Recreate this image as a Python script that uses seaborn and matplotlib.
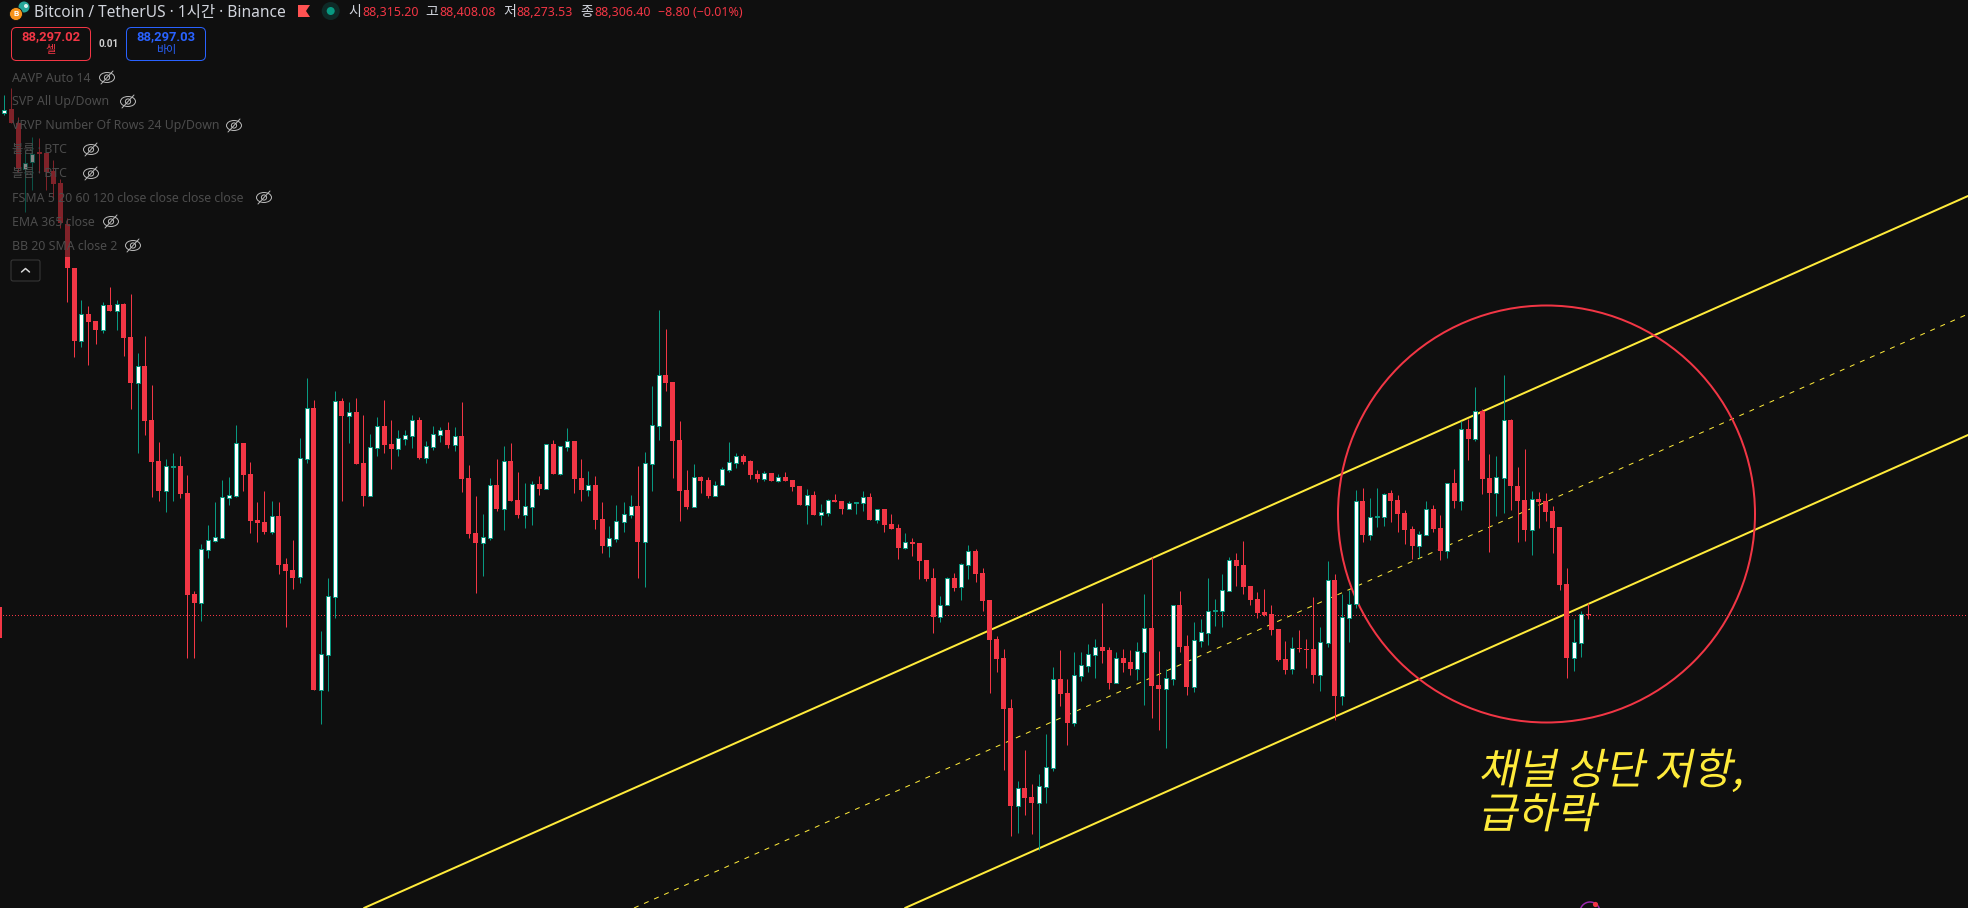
import numpy as np
import pandas as pd
import seaborn as sns
import matplotlib
matplotlib.use("Agg")
import matplotlib.pyplot as plt
from matplotlib.patches import Circle, Ellipse, FancyBboxPatch, Polygon, Rectangle
from matplotlib.patheffects import AbstractPathEffect
from matplotlib.transforms import Affine2D

wick_high = [
    95,88,117,150,137,138,153,160,179,218,
    268,300,306,321,302,287,300,303,294,353,
    336,385,442,459,453,456,475,591,544,525,
    502,480,477,425,443,462,502,491,501,502,
    558,540,438,378,400,631,578,391,398,402,
    398,415,434,417,400,420,430,430,415,417,
    441,426,427,422,427,402,465,496,514,478,
    459,446,443,472,483,481,476,444,440,446,
    428,441,459,471,476,502,526,505,502,495,
    466,452,386,310,329,382,421,470,464,476,
    477,481,467,442,453,454,460,470,471,473,
    474,472,480,486,489,491,504,499,494,501,
    501,502,491,493,509,509,514,524,533,538,
    543,560,568,596,577,573,563,545,549,568,
    600,636,649,699,781,750,784,774,734,667,
    650,679,652,652,644,639,603,647,652,649,
    650,642,594,557,651,669,605,591,635,622,
    619,578,599,574,557,553,541,586,592,589,
    605,629,641,637,630,639,597,627,561,574,
    594,590,490,488,498,488,493,490,495,510,
    526,531,501,505,515,483,469,421,419,387,
    409,454,456,375,419,467,449,491,492,493,
    506,527,568,619,611,603]
body_high = [
    110,109,123,163,154,152,153,171,183,224,
    268,314,314,321,305,305,304,304,337,366,
    366,420,461,466,466,466,493,594,549,540,
    537,497,495,443,443,474,520,522,516,516,
    564,570,458,408,408,654,596,401,401,412,
    412,463,447,426,426,444,438,435,420,420,
    446,434,430,430,436,436,478,533,537,485,
    485,461,461,500,506,484,484,444,444,446,
    441,441,478,485,485,519,538,521,514,506,
    506,463,425,375,375,382,440,490,477,477,
    480,485,469,462,456,456,461,474,473,473,
    477,477,480,486,495,495,512,500,500,501,
    503,502,497,497,509,509,524,528,542,542,
    543,560,578,605,578,578,564,551,551,573,
    600,639,658,708,788,788,797,786,767,679,
    679,693,675,665,654,647,647,650,658,658,
    662,651,628,628,685,678,605,605,646,640,
    632,611,610,590,560,560,565,586,599,612,
    614,629,659,648,648,649,649,642,580,580,
    617,604,501,501,517,516,494,493,500,513,
    529,534,509,509,528,483,483,429,429,411,
    411,478,477,420,420,486,500,499,499,501,
    511,527,584,642,614,614]
body_low = [
    113,123,169,169,162,154,172,184,223,268,
    341,341,322,330,330,311,311,338,383,383,
    421,462,491,491,467,494,595,603,603,550,
    541,538,498,496,475,521,523,532,532,565,
    571,578,577,459,690,690,655,597,416,416,
    464,496,496,448,445,449,449,439,436,458,
    458,447,435,445,445,479,534,543,543,538,
    509,509,501,515,515,507,489,489,474,474,
    447,479,490,490,520,546,546,539,522,515,
    542,542,464,426,383,441,491,507,507,481,
    496,496,485,470,463,462,475,479,479,481,
    481,481,487,505,505,515,515,513,502,509,
    509,503,503,520,520,525,529,548,548,544,
    561,579,617,617,605,588,587,565,574,601,
    640,659,709,806,806,798,803,803,787,768,
    694,723,723,676,666,655,651,683,683,663,
    669,669,652,686,689,689,679,647,687,687,
    641,633,611,611,591,566,587,600,613,615,
    630,660,670,669,649,650,675,675,643,696,
    696,618,604,535,535,517,517,501,514,530,
    546,546,535,529,551,551,501,501,439,439,
    479,493,493,478,486,501,530,530,502,512,
    528,585,658,658,643,615]
wick_low = [
    115,123,172,212,190,173,190,198,228,302,
    357,347,365,344,333,311,330,356,409,453,
    435,497,501,512,501,498,658,658,621,558,
    542,538,505,497,491,533,542,534,534,574,
    627,589,583,463,690,724,691,618,501,443,
    464,506,496,456,453,469,456,445,448,459,
    463,450,442,448,451,492,538,593,576,540,
    511,530,501,518,528,525,495,489,474,475,
    451,493,501,496,529,553,557,542,532,518,
    578,587,491,440,391,478,521,509,507,493,
    498,496,485,472,468,464,479,482,481,481,
    482,481,491,505,524,515,525,516,502,514,
    509,514,511,520,523,532,529,559,549,556,
    579,581,633,622,605,591,600,579,582,611,
    693,672,770,836,833,815,834,850,803,771,
    706,745,726,681,672,678,663,689,683,672,
    675,680,705,718,730,748,685,652,695,692,
    647,645,626,627,591,586,594,605,618,616,
    635,661,674,674,652,668,683,691,647,720,
    705,642,608,542,540,527,526,522,532,544,
    559,558,535,532,560,558,508,510,460,441,
    494,552,516,513,510,542,541,555,528,521,
    553,590,678,671,657,619]
rising = [
    1,0,0,1,1,0,0,0,0,0,
    0,1,0,0,1,0,1,0,0,1,
    0,0,0,1,1,0,0,0,1,1,
    1,1,1,1,0,0,0,0,1,0,
    0,0,1,1,0,1,1,1,0,1,
    0,0,1,1,0,0,1,1,1,0,
    1,1,1,0,1,0,0,0,1,1,
    0,1,0,0,1,1,0,1,0,1,
    1,0,0,1,0,0,1,1,1,1,
    0,1,1,1,0,0,0,0,1,0,
    0,1,1,1,1,0,0,0,1,0,
    1,0,0,0,1,0,1,1,0,0,
    1,1,1,0,1,0,0,0,1,0,
    0,0,0,1,1,0,1,1,0,0,
    0,0,0,0,1,0,0,1,1,1,
    0,0,1,1,1,1,0,0,1,0,
    0,1,1,0,0,1,1,0,0,1,
    1,1,1,1,1,0,0,0,0,0,
    0,0,0,1,0,0,0,1,1,0,
    1,1,1,0,1,1,1,0,0,0,
    0,1,1,0,0,1,0,1,0,1,
    0,0,1,1,0,0,0,1,0,0,
    0,0,0,1,1,0]

channel_upper_x = [364, 1968]
channel_upper_y = [908, 196]
channel_lower_x = [905, 1968]
channel_lower_y = [908, 435]
channel_mid_x = [634, 1968]
channel_mid_y = [908, 314]

title_text = "Bitcoin / TetherUS · 1시간 · Binance"
ohlc_labels = ["시", "고", "저", "종"]
ohlc_values = ["88,315.20", "88,408.08", "88,273.53", "88,306.40"]
change_text = "−8.80 (−0.01%)"
sell_price, sell_label = "88,297.02", "셀"
buy_price, buy_label = "88,297.03", "바이"
spread_text = "0.01"
indicator_names = ["AAVP Auto 14", "SVP All Up/Down", "VRVP Number Of Rows 24 Up/Down",
                   "볼륨 · BTC", "볼륨 · BTC", "FSMA 5 20 60 120 close close close close",
                   "EMA 365 close", "BB 20 SMA close 2"]
annotation_lines = ["채널 상단 저항,", "급하락"]

BG = "#0F0F0F"
RED = "#F23645"
GREEN = "#089981"
YELLOW = "#FFEB3B"
BLUE = "#2962FF"
W, H = 1968, 908

sns.set_theme(style="dark", rc={"figure.facecolor": BG, "axes.facecolor": BG})
plt.rcParams["font.family"] = ["Noto Sans", "Noto Sans CJK KR", "DejaVu Sans"]
BOLD = ["Roboto", "Noto Sans CJK KR", "DejaVu Sans"]

candles = pd.DataFrame({"wick_high": wick_high, "body_high": body_high, "body_low": body_low,
                        "wick_low": wick_low, "rising": rising})
candles["x"] = 4 + 7.04 * candles.index

fig = plt.figure(figsize=(W / 100, H / 100), dpi=100)
ax = fig.add_axes([0, 0, 1, 1])
ax.set_xlim(0, W)
ax.set_ylim(H, 0)
ax.axis("off")
px = 0.72

# price line, channel, circle: all behind the candles
ax.plot([3, W], [615.5, 615.5], color=RED, lw=px, ls=(0, (1, 2)), zorder=1, snap=False, dash_capstyle="butt")
ax.add_patch(Rectangle((0, 607), 2, 31, facecolor=RED, edgecolor="none", zorder=1))
sns.lineplot(x=channel_upper_x, y=channel_upper_y, ax=ax, color=YELLOW, lw=2 * px, zorder=2, sort=False, estimator=None)
sns.lineplot(x=channel_lower_x, y=channel_lower_y, ax=ax, color=YELLOW, lw=2 * px, zorder=2, sort=False, estimator=None)
sns.lineplot(x=channel_mid_x, y=channel_mid_y, ax=ax, color=YELLOW, lw=1 * px, zorder=2, sort=False, estimator=None,
             linestyle=(0, (5, 6)))
ax.add_patch(Circle((1546.5, 514), 208.5, fill=False, edgecolor=RED, lw=2 * px, zorder=2))
ax.set_xlim(0, W)
ax.set_ylim(H, 0)
ax.axis("off")

# candles
up = candles[candles.rising == 1]
dn = candles[candles.rising == 0]
ax.vlines(dn.x, dn.wick_high, dn.wick_low, colors=RED, lw=px, zorder=3)
ax.vlines(up.x, up.wick_high, up.wick_low, colors=GREEN, lw=px, zorder=3)
ax.bar(dn.x, np.maximum(dn.body_low - dn.body_high, 1), bottom=dn.body_high, width=5, color=RED, lw=0, zorder=4)
ax.bar(up.x, np.maximum(up.body_low - up.body_high, 1), bottom=up.body_high, width=4, facecolor="white",
       edgecolor=GREEN, lw=px, zorder=4)

# dimming panel under the indicator legend
ax.add_patch(Rectangle((8, 65), 300, 192, facecolor=BG, edgecolor="none", alpha=0.5, zorder=5))


class Slant(AbstractPathEffect):
    def __init__(self, x0, y0, deg):
        super().__init__()
        self.x0, self.y0, self.deg = x0, y0, deg

    def draw_path(self, renderer, gc, tpath, affine, rgbFace=None):
        t = affine + Affine2D().translate(-self.x0, -self.y0).skew_deg(self.deg, 0).translate(self.x0, self.y0)
        renderer.draw_path(gc, tpath, t, rgbFace)


# annotation text, one baseline per line
for line, baseline in zip(annotation_lines, [784, 828]):
    x0, y0 = ax.transData.transform((1478, baseline))
    ax.text(1478, baseline, line, color=YELLOW, fontsize=42.5 * px, va="baseline", ha="left",
            family=["Noto Sans CJK KR"], zorder=6, path_effects=[Slant(x0, y0, 12)])

# header
TXT = "#D1D4DC"
ax.add_patch(Circle((24, 7), 5.5, facecolor="#26A69A", edgecolor="none", zorder=6))
ax.add_patch(Circle((26, 6), 2, facecolor="#D8F0EE", edgecolor="none", zorder=6))
ax.add_patch(Circle((16, 14), 6.5, facecolor="#F7931A", edgecolor=BG, lw=0.6, zorder=7))
ax.text(16, 14, "B", color="white", fontsize=6, weight="bold", ha="center", va="center", family=BOLD, zorder=8)
ax.text(34, 12.5, title_text, color=TXT, fontsize=15.5 * px, va="center", ha="left", zorder=6)
ax.add_patch(Polygon([(298, 5), (310, 5), (306, 11), (310, 17), (298, 17)], facecolor="#FF5252", edgecolor="none", zorder=6))
ax.add_patch(Circle((330.7, 11), 9, facecolor="#0E2A27", edgecolor="none", zorder=6))
ax.add_patch(Circle((330.7, 11), 4, facecolor=GREEN, edgecolor="none", zorder=7))

ohlc_label_x = [348, 425, 503, 580]
ohlc_value_x = [362.5, 439.5, 516.5, 594]
for lab, val, lx, vx in zip(ohlc_labels, ohlc_values, ohlc_label_x, ohlc_value_x):
    ax.text(lx, 12.5, lab, color=TXT, fontsize=14 * px, va="center", ha="left", zorder=6)
    ax.text(vx, 12.5, val, color=RED, fontsize=12.4 * px, va="center", ha="left", zorder=6)
ax.text(657.5, 12.5, change_text, color=RED, fontsize=12.4 * px, va="center", ha="left", zorder=6)

# sell / buy boxes
for x, w, col, price, lab in [(11.5, 79, RED, sell_price, sell_label), (126.5, 79, BLUE, buy_price, buy_label)]:
    ax.add_patch(FancyBboxPatch((x + 3, 27.5 + 3), w - 6, 33 - 6, boxstyle="round,pad=3,rounding_size=5",
                                facecolor=BG, edgecolor=col, lw=px, zorder=6))
    ax.text(x + w / 2, 36.5, price, color=col, fontsize=13 * px, weight="bold", family=BOLD,
            ha="center", va="center", zorder=7)
    ax.text(x + w / 2, 51, lab, color=col, fontsize=11 * px, ha="center", va="center", zorder=7)
ax.text(108.5, 44, spread_text, color="#D0D0D0", fontsize=10 * px, weight="bold", family=BOLD,
        ha="center", va="center", zorder=7)

# indicator legend
row_y = [78, 102, 126, 150, 174, 198, 222, 246]
eye_x = [107, 128, 234, 91, 91, 264, 111, 133]
for name, ry, ex in zip(indicator_names, row_y, eye_x):
    ax.text(12, ry, name, color="#4C4C4C", fontsize=12.3 * px, va="center", ha="left", zorder=6)
    ey = ry - 0.5
    ax.add_patch(Ellipse((ex, ey), 15, 10, fill=False, edgecolor="#B8B8B8", lw=px, zorder=6))
    ax.add_patch(Circle((ex, ey), 2.6, fill=False, edgecolor="#B8B8B8", lw=px, zorder=6))
    ax.plot([ex - 6, ex + 6], [ey + 6.5, ey - 6.5], color="#B8B8B8", lw=px, zorder=6)

# collapse button
ax.add_patch(FancyBboxPatch((13, 262), 25, 17, boxstyle="round,pad=2,rounding_size=2",
                            facecolor=BG, edgecolor="#3A3A3A", lw=px, zorder=6))
ax.plot([21.5, 25.5, 29.5], [272, 268.5, 272], color="#D8D8D8", lw=1.5 * px, zorder=7)

# bottom-edge mark
ax.add_patch(Circle((1590, 912), 10, fill=False, edgecolor="#9C27B0", lw=1.5 * px, zorder=6))
ax.add_patch(Circle((1595.5, 904.5), 2.6, facecolor=RED, edgecolor="none", zorder=7))

fig.savefig("out.png", dpi=100, facecolor=BG)
